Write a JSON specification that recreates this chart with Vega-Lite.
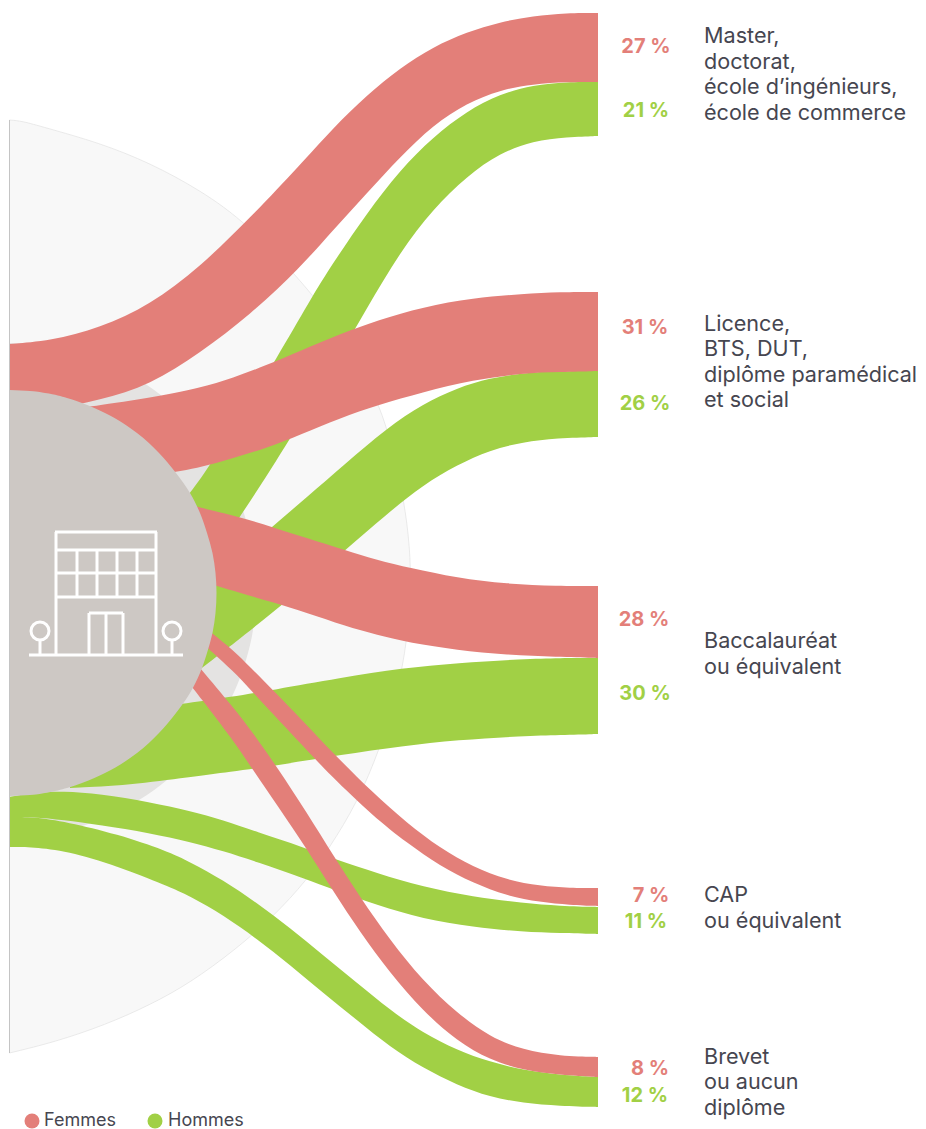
{"$schema":"https://vega.github.io/schema/vega-lite/v6.json","width":926,"height":1129,"padding":0,"autosize":{"type":"none"},"background":"white","view":{"stroke":null},
"datasets":{
"big":[{"y":120,"x":9.5,"x0":9.5},{"y":121,"x":22,"x0":9.5},{"y":127,"x":43,"x0":9.5},{"y":143,"x":100,"x0":9.5},{"y":163,"x":150,"x0":9.5},{"y":190,"x":200,"x0":9.5},{"y":223,"x":247,"x0":9.5},{"y":290,"x":310,"x0":9.5},{"y":345,"x":350,"x0":9.5},{"y":405,"x":380,"x0":9.5},{"y":450,"x":393,"x0":9.5},{"y":500,"x":404,"x0":9.5},{"y":547,"x":410,"x0":9.5},{"y":590,"x":411,"x0":9.5},{"y":642,"x":407,"x0":9.5},{"y":690,"x":398,"x0":9.5},{"y":749,"x":380,"x0":9.5},{"y":803,"x":357,"x0":9.5},{"y":847,"x":330,"x0":9.5},{"y":880,"x":307,"x0":9.5},{"y":917,"x":273,"x0":9.5},{"y":950,"x":235,"x0":9.5},{"y":983,"x":190,"x0":9.5},{"y":1005,"x":150,"x0":9.5},{"y":1025,"x":105,"x0":9.5},{"y":1042,"x":55,"x0":9.5},{"y":1053,"x":9.5,"x0":9.5}],
"ring":[{"y":343,"x":9.5,"x0":9.5},{"y":345,"x":40,"x0":9.5},{"y":350,"x":67,"x0":9.5},{"y":360,"x":99,"x0":9.5},{"y":380,"x":139,"x0":9.5},{"y":400,"x":167,"x0":9.5},{"y":430,"x":197,"x0":9.5},{"y":460,"x":219,"x0":9.5},{"y":490,"x":235,"x0":9.5},{"y":520,"x":246,"x0":9.5},{"y":550,"x":253,"x0":9.5},{"y":590,"x":256,"x0":9.5},{"y":630,"x":253,"x0":9.5},{"y":660,"x":246,"x0":9.5},{"y":690,"x":235,"x0":9.5},{"y":720,"x":219,"x0":9.5},{"y":750,"x":197,"x0":9.5},{"y":780,"x":167,"x0":9.5},{"y":800,"x":139,"x0":9.5},{"y":820,"x":99,"x0":9.5},{"y":830,"x":67,"x0":9.5},{"y":835,"x":40,"x0":9.5},{"y":837,"x":9.5,"x0":9.5}],
"hub":[{"y":390,"x":9.5,"x0":9.5},{"y":391,"x":30,"x0":9.5},{"y":393,"x":45,"x0":9.5},{"y":398,"x":67,"x0":9.5},{"y":403,"x":82,"x0":9.5},{"y":413,"x":105,"x0":9.5},{"y":433,"x":137,"x0":9.5},{"y":453,"x":159,"x0":9.5},{"y":473,"x":176,"x0":9.5},{"y":493,"x":190,"x0":9.5},{"y":513,"x":200,"x0":9.5},{"y":533,"x":207,"x0":9.5},{"y":553,"x":212.5,"x0":9.5},{"y":573,"x":215.5,"x0":9.5},{"y":593,"x":216.5,"x0":9.5},{"y":613,"x":215.5,"x0":9.5},{"y":633,"x":212.5,"x0":9.5},{"y":653,"x":207,"x0":9.5},{"y":673,"x":200,"x0":9.5},{"y":693,"x":190,"x0":9.5},{"y":713,"x":176,"x0":9.5},{"y":733,"x":159,"x0":9.5},{"y":753,"x":137,"x0":9.5},{"y":773,"x":105,"x0":9.5},{"y":783,"x":82,"x0":9.5},{"y":788,"x":67,"x0":9.5},{"y":793,"x":45,"x0":9.5},{"y":795,"x":30,"x0":9.5},{"y":796,"x":9.5,"x0":9.5}],
"edge":[{"x":9.5,"y":120,"y0":1053}],
"ribbons":[
{"flow":"Master H","sex":"Hommes","x":150,"top":545,"bottom":610},{"flow":"Master H","sex":"Hommes","x":190,"top":493,"bottom":590},{"flow":"Master H","sex":"Hommes","x":207,"top":470,"bottom":565},{"flow":"Master H","sex":"Hommes","x":240,"top":417,"bottom":517},{"flow":"Master H","sex":"Hommes","x":277,"top":358,"bottom":460},{"flow":"Master H","sex":"Hommes","x":310,"top":300,"bottom":406},{"flow":"Master H","sex":"Hommes","x":333,"top":263,"bottom":367},{"flow":"Master H","sex":"Hommes","x":367,"top":213,"bottom":308},{"flow":"Master H","sex":"Hommes","x":400,"top":170,"bottom":252},{"flow":"Master H","sex":"Hommes","x":433,"top":137,"bottom":209},{"flow":"Master H","sex":"Hommes","x":467,"top":111,"bottom":176},{"flow":"Master H","sex":"Hommes","x":500,"top":94,"bottom":153},{"flow":"Master H","sex":"Hommes","x":533,"top":85,"bottom":141},{"flow":"Master H","sex":"Hommes","x":567,"top":82,"bottom":137},{"flow":"Master H","sex":"Hommes","x":598,"top":82,"bottom":136},{"flow":"Master H","sex":"Hommes","x":598,"top":82,"bottom":136},
{"flow":"Licence H","sex":"Hommes","x":180,"top":605,"bottom":685},{"flow":"Licence H","sex":"Hommes","x":215,"top":576,"bottom":658},{"flow":"Licence H","sex":"Hommes","x":232,"top":561,"bottom":645},{"flow":"Licence H","sex":"Hommes","x":272,"top":527,"bottom":613},{"flow":"Licence H","sex":"Hommes","x":307,"top":497,"bottom":584},{"flow":"Licence H","sex":"Hommes","x":345,"top":464,"bottom":550},{"flow":"Licence H","sex":"Hommes","x":387,"top":428,"bottom":514},{"flow":"Licence H","sex":"Hommes","x":423,"top":404,"bottom":485},{"flow":"Licence H","sex":"Hommes","x":457,"top":388,"bottom":465},{"flow":"Licence H","sex":"Hommes","x":490,"top":378,"bottom":450},{"flow":"Licence H","sex":"Hommes","x":523,"top":373,"bottom":442},{"flow":"Licence H","sex":"Hommes","x":557,"top":371,"bottom":438},{"flow":"Licence H","sex":"Hommes","x":598,"top":371,"bottom":437},{"flow":"Licence H","sex":"Hommes","x":598,"top":371,"bottom":437},
{"flow":"Bac H","sex":"Hommes","x":70,"top":720,"bottom":788},{"flow":"Bac H","sex":"Hommes","x":130,"top":710,"bottom":785},{"flow":"Bac H","sex":"Hommes","x":190,"top":703,"bottom":777},{"flow":"Bac H","sex":"Hommes","x":230,"top":697,"bottom":772},{"flow":"Bac H","sex":"Hommes","x":273,"top":690,"bottom":766},{"flow":"Bac H","sex":"Hommes","x":340,"top":678,"bottom":755},{"flow":"Bac H","sex":"Hommes","x":403,"top":668,"bottom":746},{"flow":"Bac H","sex":"Hommes","x":457,"top":663,"bottom":740},{"flow":"Bac H","sex":"Hommes","x":523,"top":659,"bottom":736},{"flow":"Bac H","sex":"Hommes","x":560,"top":658,"bottom":735},{"flow":"Bac H","sex":"Hommes","x":598,"top":658,"bottom":734},{"flow":"Bac H","sex":"Hommes","x":598,"top":658,"bottom":734},
{"flow":"CAP H","sex":"Hommes","x":9.5,"top":797,"bottom":817},{"flow":"CAP H","sex":"Hommes","x":33,"top":793,"bottom":817},{"flow":"CAP H","sex":"Hommes","x":63,"top":791,"bottom":820},{"flow":"CAP H","sex":"Hommes","x":100,"top":794,"bottom":825},{"flow":"CAP H","sex":"Hommes","x":150,"top":802,"bottom":833},{"flow":"CAP H","sex":"Hommes","x":190,"top":811,"bottom":842},{"flow":"CAP H","sex":"Hommes","x":223,"top":820,"bottom":851},{"flow":"CAP H","sex":"Hommes","x":257,"top":832,"bottom":862},{"flow":"CAP H","sex":"Hommes","x":303,"top":847,"bottom":878},{"flow":"CAP H","sex":"Hommes","x":337,"top":860,"bottom":891},{"flow":"CAP H","sex":"Hommes","x":377,"top":873,"bottom":905},{"flow":"CAP H","sex":"Hommes","x":423,"top":887,"bottom":919},{"flow":"CAP H","sex":"Hommes","x":473,"top":897,"bottom":927},{"flow":"CAP H","sex":"Hommes","x":523,"top":903,"bottom":932},{"flow":"CAP H","sex":"Hommes","x":560,"top":906,"bottom":933},{"flow":"CAP H","sex":"Hommes","x":598,"top":907,"bottom":934},{"flow":"CAP H","sex":"Hommes","x":598,"top":907,"bottom":934},
{"flow":"Brevet H","sex":"Hommes","x":9.5,"top":817,"bottom":847},{"flow":"Brevet H","sex":"Hommes","x":33,"top":817,"bottom":847},{"flow":"Brevet H","sex":"Hommes","x":67,"top":822,"bottom":851},{"flow":"Brevet H","sex":"Hommes","x":117,"top":834,"bottom":866},{"flow":"Brevet H","sex":"Hommes","x":167,"top":851,"bottom":886},{"flow":"Brevet H","sex":"Hommes","x":190,"top":862,"bottom":896},{"flow":"Brevet H","sex":"Hommes","x":223,"top":880,"bottom":915},{"flow":"Brevet H","sex":"Hommes","x":257,"top":903,"bottom":939},{"flow":"Brevet H","sex":"Hommes","x":290,"top":928,"bottom":965},{"flow":"Brevet H","sex":"Hommes","x":323,"top":955,"bottom":993},{"flow":"Brevet H","sex":"Hommes","x":357,"top":983,"bottom":1020},{"flow":"Brevet H","sex":"Hommes","x":390,"top":1010,"bottom":1047},{"flow":"Brevet H","sex":"Hommes","x":423,"top":1033,"bottom":1068},{"flow":"Brevet H","sex":"Hommes","x":457,"top":1050,"bottom":1085},{"flow":"Brevet H","sex":"Hommes","x":490,"top":1062,"bottom":1097},{"flow":"Brevet H","sex":"Hommes","x":523,"top":1070,"bottom":1103},{"flow":"Brevet H","sex":"Hommes","x":560,"top":1075,"bottom":1106},{"flow":"Brevet H","sex":"Hommes","x":598,"top":1077,"bottom":1107},{"flow":"Brevet H","sex":"Hommes","x":598,"top":1077,"bottom":1107},
{"flow":"Master F","sex":"Femmes","x":9.5,"top":344,"bottom":415},{"flow":"Master F","sex":"Femmes","x":50,"top":341,"bottom":410},{"flow":"Master F","sex":"Femmes","x":100,"top":328,"bottom":400},{"flow":"Master F","sex":"Femmes","x":150,"top":305,"bottom":385},{"flow":"Master F","sex":"Femmes","x":200,"top":267,"bottom":353},{"flow":"Master F","sex":"Femmes","x":250,"top":218,"bottom":315},{"flow":"Master F","sex":"Femmes","x":300,"top":165,"bottom":268},{"flow":"Master F","sex":"Femmes","x":333,"top":128,"bottom":230},{"flow":"Master F","sex":"Femmes","x":367,"top":95,"bottom":193},{"flow":"Master F","sex":"Femmes","x":400,"top":68,"bottom":157},{"flow":"Master F","sex":"Femmes","x":433,"top":47,"bottom":125},{"flow":"Master F","sex":"Femmes","x":467,"top":32,"bottom":103},{"flow":"Master F","sex":"Femmes","x":500,"top":22,"bottom":90},{"flow":"Master F","sex":"Femmes","x":533,"top":16,"bottom":84},{"flow":"Master F","sex":"Femmes","x":567,"top":13,"bottom":82},{"flow":"Master F","sex":"Femmes","x":598,"top":13,"bottom":82},{"flow":"Master F","sex":"Femmes","x":598,"top":13,"bottom":82},
{"flow":"Licence F","sex":"Femmes","x":80,"top":408,"bottom":480},{"flow":"Licence F","sex":"Femmes","x":150,"top":398,"bottom":476},{"flow":"Licence F","sex":"Femmes","x":200,"top":388,"bottom":468},{"flow":"Licence F","sex":"Femmes","x":233,"top":378,"bottom":458},{"flow":"Licence F","sex":"Femmes","x":267,"top":365,"bottom":448},{"flow":"Licence F","sex":"Femmes","x":300,"top":351,"bottom":435},{"flow":"Licence F","sex":"Femmes","x":340,"top":334,"bottom":418},{"flow":"Licence F","sex":"Femmes","x":378,"top":320,"bottom":405},{"flow":"Licence F","sex":"Femmes","x":423,"top":307,"bottom":392},{"flow":"Licence F","sex":"Femmes","x":473,"top":298,"bottom":380},{"flow":"Licence F","sex":"Femmes","x":523,"top":294,"bottom":373},{"flow":"Licence F","sex":"Femmes","x":560,"top":292,"bottom":372},{"flow":"Licence F","sex":"Femmes","x":598,"top":292,"bottom":371},{"flow":"Licence F","sex":"Femmes","x":598,"top":292,"bottom":371},
{"flow":"Bac F","sex":"Femmes","x":180,"top":502,"bottom":575},{"flow":"Bac F","sex":"Femmes","x":197,"top":507,"bottom":580},{"flow":"Bac F","sex":"Femmes","x":240,"top":517,"bottom":593},{"flow":"Bac F","sex":"Femmes","x":272,"top":527,"bottom":602},{"flow":"Bac F","sex":"Femmes","x":307,"top":538,"bottom":613},{"flow":"Bac F","sex":"Femmes","x":345,"top":550,"bottom":626},{"flow":"Bac F","sex":"Femmes","x":377,"top":560,"bottom":635},{"flow":"Bac F","sex":"Femmes","x":410,"top":568,"bottom":643},{"flow":"Bac F","sex":"Femmes","x":457,"top":578,"bottom":650},{"flow":"Bac F","sex":"Femmes","x":507,"top":584,"bottom":655},{"flow":"Bac F","sex":"Femmes","x":557,"top":586,"bottom":657},{"flow":"Bac F","sex":"Femmes","x":598,"top":586,"bottom":658},{"flow":"Bac F","sex":"Femmes","x":598,"top":586,"bottom":658},
{"flow":"CAP F","sex":"Femmes","x":195,"top":620,"bottom":636},{"flow":"CAP F","sex":"Femmes","x":212,"top":633,"bottom":652},{"flow":"CAP F","sex":"Femmes","x":233,"top":650,"bottom":671},{"flow":"CAP F","sex":"Femmes","x":250,"top":667,"bottom":689},{"flow":"CAP F","sex":"Femmes","x":273,"top":690,"bottom":714},{"flow":"CAP F","sex":"Femmes","x":302,"top":720,"bottom":745},{"flow":"CAP F","sex":"Femmes","x":330,"top":750,"bottom":775},{"flow":"CAP F","sex":"Femmes","x":373,"top":793,"bottom":816},{"flow":"CAP F","sex":"Femmes","x":407,"top":823,"bottom":843},{"flow":"CAP F","sex":"Femmes","x":440,"top":848,"bottom":866},{"flow":"CAP F","sex":"Femmes","x":473,"top":867,"bottom":883},{"flow":"CAP F","sex":"Femmes","x":507,"top":880,"bottom":896},{"flow":"CAP F","sex":"Femmes","x":540,"top":886,"bottom":902},{"flow":"CAP F","sex":"Femmes","x":570,"top":888,"bottom":905},{"flow":"CAP F","sex":"Femmes","x":598,"top":888,"bottom":906},{"flow":"CAP F","sex":"Femmes","x":598,"top":888,"bottom":906},
{"flow":"Brevet F","sex":"Femmes","x":185,"top":650,"bottom":678},{"flow":"Brevet F","sex":"Femmes","x":200,"top":668,"bottom":697},{"flow":"Brevet F","sex":"Femmes","x":233,"top":707,"bottom":740},{"flow":"Brevet F","sex":"Femmes","x":253,"top":733,"bottom":770},{"flow":"Brevet F","sex":"Femmes","x":277,"top":767,"bottom":805},{"flow":"Brevet F","sex":"Femmes","x":307,"top":813,"bottom":849},{"flow":"Brevet F","sex":"Femmes","x":333,"top":855,"bottom":891},{"flow":"Brevet F","sex":"Femmes","x":360,"top":897,"bottom":932},{"flow":"Brevet F","sex":"Femmes","x":390,"top":940,"bottom":973},{"flow":"Brevet F","sex":"Femmes","x":423,"top":981,"bottom":1011},{"flow":"Brevet F","sex":"Femmes","x":457,"top":1013,"bottom":1041},{"flow":"Brevet F","sex":"Femmes","x":490,"top":1037,"bottom":1060},{"flow":"Brevet F","sex":"Femmes","x":523,"top":1050,"bottom":1070},{"flow":"Brevet F","sex":"Femmes","x":560,"top":1056,"bottom":1075},{"flow":"Brevet F","sex":"Femmes","x":598,"top":1057,"bottom":1077},{"flow":"Brevet F","sex":"Femmes","x":598,"top":1057,"bottom":1077}
],
"icon":[{"a":55,"b":157,"c":532,"d":532},{"a":55,"b":157,"c":550,"d":550},{"a":55,"b":157,"c":573,"d":573},{"a":55,"b":157,"c":597,"d":597},{"a":29,"b":183,"c":655,"d":655},{"a":56,"b":56,"c":532,"d":655},{"a":156,"b":156,"c":532,"d":655},{"a":77,"b":77,"c":550,"d":597},{"a":97,"b":97,"c":550,"d":597},{"a":117,"b":117,"c":550,"d":597},{"a":137,"b":137,"c":550,"d":597},{"a":89,"b":123,"c":613,"d":613},{"a":89,"b":89,"c":613,"d":655},{"a":106,"b":106,"c":613,"d":655},{"a":123,"b":123,"c":613,"d":655},{"a":40,"b":40,"c":641,"d":655},{"a":172,"b":172,"c":641,"d":655}],
"trees":[{"x":40,"y":631},{"x":172,"y":631}],
"pct":[{"label":"27 %","sex":"Femmes","x":646,"y":47},{"label":"21 %","sex":"Hommes","x":646,"y":111},{"label":"31 %","sex":"Femmes","x":645,"y":328},{"label":"26 %","sex":"Hommes","x":645,"y":404},{"label":"28 %","sex":"Femmes","x":644,"y":620},{"label":"30 %","sex":"Hommes","x":645,"y":694},{"label":"7 %","sex":"Femmes","x":651,"y":896},{"label":"11 %","sex":"Hommes","x":646,"y":922},{"label":"8 %","sex":"Femmes","x":650,"y":1069},{"label":"12 %","sex":"Hommes","x":645,"y":1096}],
"labels":[{"t":"Master,","x":704,"y":37},{"t":"doctorat,","x":704,"y":63},{"t":"école d’ingénieurs,","x":704,"y":88},{"t":"école de commerce","x":704,"y":114},{"t":"Licence,","x":704,"y":325},{"t":"BTS, DUT,","x":704,"y":350},{"t":"diplôme paramédical","x":704,"y":376},{"t":"et social","x":704,"y":401},{"t":"Baccalauréat","x":704,"y":642},{"t":"ou équivalent","x":704,"y":668},{"t":"CAP","x":704,"y":896},{"t":"ou équivalent","x":704,"y":922},{"t":"Brevet","x":704,"y":1058},{"t":"ou aucun","x":704,"y":1083},{"t":"diplôme","x":704,"y":1109}],
"legendtext":[{"t":"Femmes","x":44,"y":1121},{"t":"Hommes","x":168,"y":1121}],
"key":[{"sex":"Femmes","x":32,"y":1121},{"sex":"Hommes","x":155,"y":1121}]
},
"layer":[
{"data":{"name":"big"},"mark":{"type":"area","orient":"horizontal","interpolate":"basis","fill":"#F8F8F8","stroke":"#DEDEDE","strokeWidth":0.6},"encoding":{"y":{"field":"y","type":"quantitative","scale":{"domain":[1129,0],"nice":false,"zero":false},"axis":null},"x":{"field":"x","type":"quantitative","scale":{"domain":[0,926],"nice":false,"zero":false},"axis":null},"x2":{"field":"x0"}}},
{"data":{"name":"ring"},"mark":{"type":"area","orient":"horizontal","interpolate":"monotone","fill":"#E4E3E2"},"encoding":{"y":{"field":"y","type":"quantitative"},"x":{"field":"x","type":"quantitative"},"x2":{"field":"x0"}}},
{"data":{"name":"ribbons"},"transform":[{"filter":"datum.sex==='Hommes'"}],"mark":{"type":"area","interpolate":"basis"},"encoding":{"x":{"field":"x","type":"quantitative"},"y":{"field":"top","type":"quantitative"},"y2":{"field":"bottom"},"detail":{"field":"flow"},"color":{"field":"sex","type":"nominal","scale":{"domain":["Femmes","Hommes"],"range":["#E37F79","#A1D045"]},"legend":null}}},
{"data":{"name":"ribbons"},"transform":[{"filter":"datum.sex==='Femmes'"}],"mark":{"type":"area","interpolate":"basis"},"encoding":{"x":{"field":"x","type":"quantitative"},"y":{"field":"top","type":"quantitative"},"y2":{"field":"bottom"},"detail":{"field":"flow"},"color":{"field":"sex","type":"nominal","legend":null}}},
{"data":{"name":"hub"},"mark":{"type":"area","orient":"horizontal","interpolate":"monotone","fill":"#CDC8C4"},"encoding":{"y":{"field":"y","type":"quantitative"},"x":{"field":"x","type":"quantitative"},"x2":{"field":"x0"}}},
{"data":{"name":"edge"},"mark":{"type":"rule","color":"#C4C4C4","strokeWidth":1},"encoding":{"x":{"field":"x","type":"quantitative"},"y":{"field":"y","type":"quantitative"},"y2":{"field":"y0"}}},
{"data":{"name":"icon"},"mark":{"type":"rule","color":"white","strokeWidth":3},"encoding":{"x":{"field":"a","type":"quantitative"},"x2":{"field":"b"},"y":{"field":"c","type":"quantitative"},"y2":{"field":"d"}}},
{"data":{"name":"trees"},"mark":{"type":"point","shape":"circle","filled":false,"stroke":"white","strokeWidth":3,"opacity":1,"size":324},"encoding":{"x":{"field":"x","type":"quantitative"},"y":{"field":"y","type":"quantitative"}}},
{"data":{"name":"pct"},"mark":{"type":"text","font":"Inter","fontSize":20,"fontWeight":"bold","align":"center","baseline":"middle"},"encoding":{"x":{"field":"x","type":"quantitative"},"y":{"field":"y","type":"quantitative"},"text":{"field":"label"},"color":{"field":"sex","type":"nominal","legend":null}}},
{"data":{"name":"labels"},"mark":{"type":"text","font":"Inter","fontSize":21.6,"color":"#464650","align":"left","baseline":"middle"},"encoding":{"x":{"field":"x","type":"quantitative"},"y":{"field":"y","type":"quantitative"},"text":{"field":"t"}}},
{"data":{"name":"key"},"mark":{"type":"point","shape":"circle","filled":true,"opacity":1,"size":225},"encoding":{"x":{"field":"x","type":"quantitative"},"y":{"field":"y","type":"quantitative"},"color":{"field":"sex","type":"nominal","legend":null}}},
{"data":{"name":"legendtext"},"mark":{"type":"text","font":"Inter","fontSize":18,"color":"#464650","align":"left","baseline":"middle"},"encoding":{"x":{"field":"x","type":"quantitative"},"y":{"field":"y","type":"quantitative"},"text":{"field":"t"}}}
]}
